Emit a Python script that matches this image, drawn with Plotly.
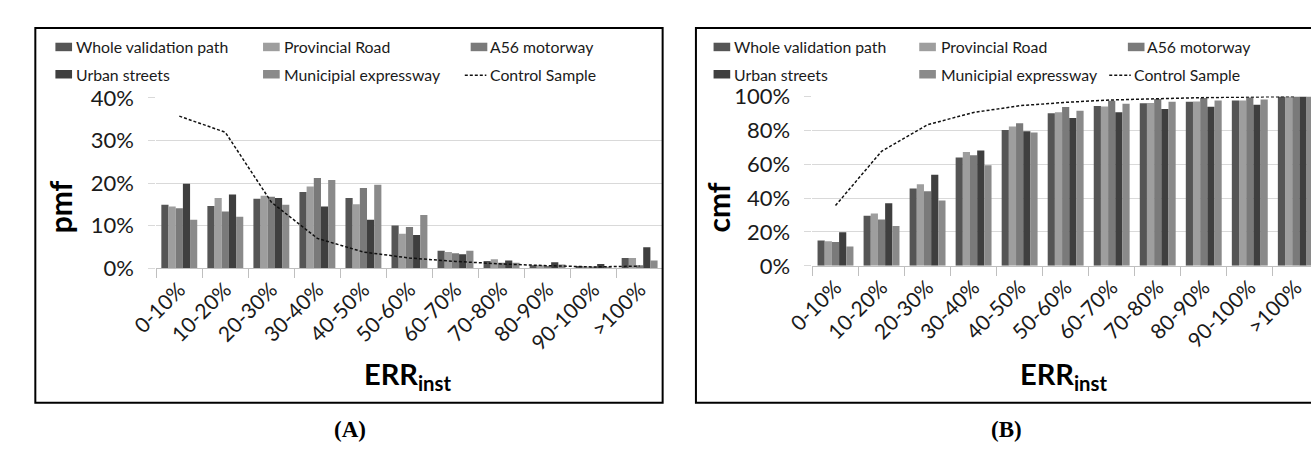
import plotly.graph_objects as go

W, H = 1311, 462

categories = ["0-10%", "10-20%", "20-30%", "30-40%", "40-50%", "50-60%",
              "60-70%", "70-80%", "80-90%", "90-100%", ">100%"]
series_names = ["Whole validation path", "Provincial Road", "A56 motorway",
                "Urban streets", "Municipial expressway"]
series_colors = ["#555555", "#9e9e9e", "#7a7a7a", "#3f3f3f", "#8a8a8a"]

# (A) pmf values in %
pmf_whole = [14.9, 14.6, 16.3, 17.9, 16.5, 10.0, 4.1, 1.7, 0.7, 0.5, 2.4]
pmf_provincial = [14.5, 16.5, 17.0, 19.2, 15.0, 8.1, 3.8, 2.1, 0.7, 0.4, 2.4]
pmf_a56 = [14.1, 13.3, 16.8, 21.2, 18.8, 9.7, 3.5, 1.3, 0.5, 0.4, 0.7]
pmf_urban = [19.8, 17.3, 16.5, 14.5, 11.4, 7.8, 3.3, 1.8, 1.4, 1.0, 4.9]
pmf_municipal = [11.4, 12.1, 14.9, 20.7, 19.6, 12.5, 4.1, 1.3, 0.9, 0.3, 1.8]
pmf_control = [35.7, 31.9, 15.5, 7.0, 3.8, 2.4, 1.6, 1.0, 0.6, 0.3, 0.5]

# (B) cmf values in %
cmf_whole = [15.0, 29.6, 45.7, 63.9, 80.2, 90.0, 94.3, 95.9, 96.9, 97.6, 100.0]
cmf_provincial = [14.6, 30.9, 48.1, 67.2, 82.2, 90.6, 94.1, 96.1, 97.0, 97.6, 100.0]
cmf_a56 = [14.1, 27.4, 44.1, 65.2, 84.1, 93.7, 97.4, 98.5, 99.1, 99.4, 100.0]
cmf_urban = [19.8, 37.0, 53.7, 68.1, 79.4, 87.2, 90.7, 92.6, 93.9, 95.0, 100.0]
cmf_municipal = [11.5, 23.5, 38.5, 59.3, 78.7, 91.5, 95.6, 96.9, 97.6, 98.1, 100.0]
cmf_control = [35.6, 67.6, 83.3, 90.5, 94.5, 96.5, 97.9, 98.8, 99.3, 99.6, 100.0]

pmf_series = [pmf_whole, pmf_provincial, pmf_a56, pmf_urban, pmf_municipal]
cmf_series = [cmf_whole, cmf_provincial, cmf_a56, cmf_urban, cmf_municipal]

FONT = "Lato"
TXT = "#1a1a1a"


def px(x):
    return x / W


def py(y):
    return 1 - y / H


fig = go.Figure()
for name, col, vals in zip(series_names, series_colors, pmf_series):
    fig.add_trace(go.Bar(x=categories, y=vals, name=name, marker_color=col,
                         marker_line_width=0, xaxis="x", yaxis="y", showlegend=False))
fig.add_trace(go.Scatter(x=categories, y=pmf_control, name="Control Sample", mode="lines",
                         line=dict(color="#111111", width=1.5, dash="3px,2px"),
                         xaxis="x", yaxis="y", showlegend=False))
for name, col, vals in zip(series_names, series_colors, cmf_series):
    fig.add_trace(go.Bar(x=categories, y=vals, name=name, marker_color=col,
                         marker_line_width=0, xaxis="x2", yaxis="y2", showlegend=False))
fig.add_trace(go.Scatter(x=categories, y=cmf_control, name="Control Sample", mode="lines",
                         line=dict(color="#111111", width=1.5, dash="3px,2px"),
                         xaxis="x2", yaxis="y2", showlegend=False))

# axes geometry (pixels)
L_X0, L_X1 = 132, 649
R_X0 = 802
CAT_W = (L_X1 - L_X0) / 11.0
r_span = (W - R_X0) / CAT_W

xcommon = dict(type="category", showgrid=False, showline=True, linecolor="#bfbfbf", linewidth=1,
               ticks="outside", tickson="boundaries", ticklen=9, tickcolor="#bfbfbf",
               tickangle=-45, tickfont=dict(family=FONT, size=21, color=TXT),
               zeroline=False, fixedrange=True)
ycommon = dict(showgrid=True, gridcolor="#d9d9d9", gridwidth=1, showline=False,
               ticks="outside", ticklen=7, tickcolor="#d9d9d9", zeroline=False,
               tickfont=dict(family=FONT, size=22, color=TXT), ticksuffix="%",
               ticklabelstandoff=10, fixedrange=True)

fig.update_layout(
    width=W, height=H, autosize=False,
    margin=dict(l=0, r=0, t=0, b=0),
    paper_bgcolor="white", plot_bgcolor="white",
    barmode="group", bargap=0.22, bargroupgap=0,
    showlegend=False,
    xaxis=dict(domain=[px(L_X0), px(L_X1)], range=[-0.5, 10.5], anchor="y", **xcommon),
    yaxis=dict(domain=[py(270), py(89)], range=[0, 40], dtick=10, anchor="x", **ycommon),
    xaxis2=dict(domain=[px(R_X0), 1.0], range=[-0.5, -0.5 + r_span], anchor="y2", **xcommon),
    yaxis2=dict(domain=[py(267.5), py(87.5)], range=[0, 100], dtick=20, anchor="x2", **ycommon),
)

shapes = []
annotations = []
# panel frames
shapes.append(dict(type="rect", xref="paper", yref="paper", x0=px(8.5), x1=px(649),
                   y0=py(413), y1=py(15), line=dict(color="black", width=2), fillcolor="rgba(0,0,0,0)"))
shapes.append(dict(type="rect", xref="paper", yref="paper", x0=px(683), x1=px(1330),
                   y0=py(413), y1=py(15), line=dict(color="black", width=2), fillcolor="rgba(0,0,0,0)"))

LEG_SIZE = 15.8


def add_legend(sym_x, txt_x, ctrl_x0, ctrl_x1, ctrl_txt_x):
    rows = [35, 64]
    slots = [(0, 0), (1, 0), (2, 0), (0, 1), (1, 1)]
    for (col, row), name, color in zip(slots, series_names, series_colors):
        y = rows[row]
        shapes.append(dict(type="rect", xref="paper", yref="paper",
                           x0=px(sym_x[col]), x1=px(sym_x[col] + 17),
                           y0=py(y + 4.5), y1=py(y - 4.5), line=dict(width=0), fillcolor=color))
        annotations.append(dict(xref="paper", yref="paper", x=px(txt_x[col]), y=py(y), text=name,
                                showarrow=False, xanchor="left", yanchor="middle",
                                font=dict(family=FONT, size=LEG_SIZE, color=TXT)))
    y = rows[1]
    shapes.append(dict(type="line", xref="paper", yref="paper", x0=px(ctrl_x0), x1=px(ctrl_x1),
                       y0=py(y + 1), y1=py(y + 1), line=dict(color="#111111", width=1.5, dash="3px,2px")))
    annotations.append(dict(xref="paper", yref="paper", x=px(ctrl_txt_x), y=py(y), text="Control Sample",
                            showarrow=False, xanchor="left", yanchor="middle",
                            font=dict(family=FONT, size=LEG_SIZE, color=TXT)))


add_legend([29, 241, 453], [48, 260, 471], 447, 469, 471)
add_legend([701, 911, 1124], [720, 931, 1141], 1105, 1127, 1128)

# axis titles
annotations.append(dict(xref="paper", yref="paper", x=px(34), y=py(205), text="<b>pmf</b>",
                        textangle=-90, showarrow=False, xanchor="center", yanchor="middle",
                        font=dict(family=FONT, size=30, color="black")))
annotations.append(dict(xref="paper", yref="paper", x=px(706), y=py(205), text="<b>cmf</b>",
                        textangle=-90, showarrow=False, xanchor="center", yanchor="middle",
                        font=dict(family=FONT, size=30, color="black")))
annotations.append(dict(xref="paper", yref="paper", x=px(388), y=py(384),
                        text="<b>ERR<sub>inst</sub></b>", showarrow=False,
                        xanchor="center", yanchor="middle",
                        font=dict(family=FONT, size=29, color="black")))
annotations.append(dict(xref="paper", yref="paper", x=px(1058), y=py(384),
                        text="<b>ERR<sub>inst</sub></b>", showarrow=False,
                        xanchor="center", yanchor="middle",
                        font=dict(family=FONT, size=29, color="black")))
# panel labels
annotations.append(dict(xref="paper", yref="paper", x=px(330), y=py(441), text="<b>(A)</b>",
                        showarrow=False, xanchor="center", yanchor="middle",
                        font=dict(family="Liberation Serif", size=23, color="black")))
annotations.append(dict(xref="paper", yref="paper", x=px(1000), y=py(441), text="<b>(B)</b>",
                        showarrow=False, xanchor="center", yanchor="middle",
                        font=dict(family="Liberation Serif", size=23, color="black")))

fig.update_layout(shapes=shapes, annotations=annotations)
fig.write_html(
    "out.html",
    config={"displayModeBar": False},
    post_script="document.body.style.margin='0';document.body.style.overflow='hidden';"
                "document.documentElement.style.overflow='hidden';",
)
